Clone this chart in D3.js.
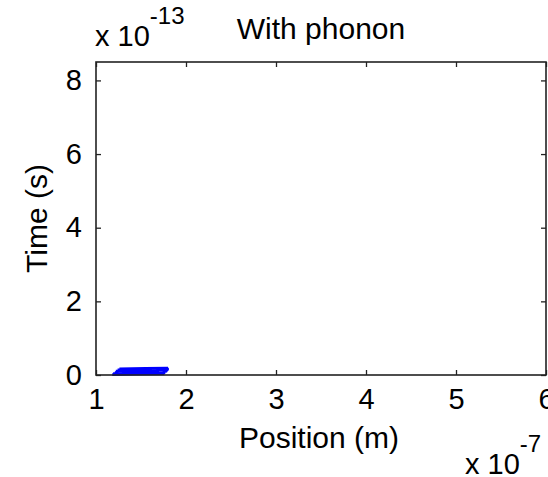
<!DOCTYPE html>
<html>
<head>
<meta charset="utf-8">
<script src="https://cdn.jsdelivr.net/npm/d3@7"></script>
<style>
  body { margin: 0; background: #fff; }
  text { font-family: "Liberation Sans", Arial, sans-serif; fill: #000; }
  .axis path { display: none; }
  .axis line { stroke: #222; stroke-width: 1.3; }
</style>
</head>
<body>
<div id="chart"></div>
<script>
// values in units of 1e-7 m (position) and 1e-13 s (time)
const xTicks = [1, 2, 3, 4, 5, 6];
const yTicks = [0, 2, 4, 6, 8];
const xDomain = [1, 6];
const yDomain = [0, 8.5];

// electron trajectories [position, time]
const paths = [
  [[1.18, 0.01], [1.48, 0.02], [1.76, 0.03]],
  [[1.19, 0.04], [1.50, 0.05], [1.77, 0.06]],
  [[1.21, 0.07], [1.25, 0.08]],
  [[1.29, 0.08], [1.55, 0.09], [1.70, 0.10]],
  [[1.74, 0.09], [1.79, 0.10]],
  [[1.22, 0.11], [1.52, 0.12], [1.80, 0.13]],
  [[1.24, 0.14], [1.50, 0.15], [1.62, 0.16]],
  [[1.67, 0.15], [1.81, 0.16]],
  [[1.26, 0.17], [1.55, 0.18], [1.80, 0.19]]
];

const totalW = 548, totalH = 477;
let margin = {top: 62, right: 2, bottom: 102, left: 96};
let W = totalW - margin.left - margin.right;
let H = totalH - margin.top - margin.bottom;

let svg = d3.select('#chart').append('svg')
  .attr('width', totalW)
  .attr('height', totalH);
let g = svg.append('g')
  .attr('transform', 'translate(' + margin.left + ' ' + margin.top + ')');

let x = d3.scaleLinear().domain(xDomain).range([0, W]);
let y = d3.scaleLinear().domain(yDomain).range([H, 0]);

// trajectories
let line = d3.line().x(d => x(d[0])).y(d => y(d[1]));
g.append('g').selectAll('path')
  .data(paths)
  .join('path')
    .attr('d', line)
    .attr('fill', 'none')
    .attr('stroke', '#0000ff')
    .attr('stroke-width', 2.6);

// inward ticks on all four sides
let tk = 5;
let fmt = d3.format('d');
g.append('g').classed('axis', true)
  .attr('transform', 'translate(0 ' + H + ')')
  .call(d3.axisBottom(x).tickValues(xTicks).tickFormat(fmt).tickSizeInner(-tk).tickSizeOuter(0).tickPadding(13))
  .selectAll('text').attr('font-size', 29);
g.append('g').classed('axis', true)
  .call(d3.axisTop(x).tickValues(xTicks).tickSizeInner(-tk).tickSizeOuter(0).tickFormat(''));
g.append('g').classed('axis', true)
  .call(d3.axisLeft(y).tickValues(yTicks).tickFormat(fmt).tickSizeInner(-tk).tickSizeOuter(0).tickPadding(14))
  .selectAll('text').attr('font-size', 29);
g.append('g').classed('axis', true)
  .attr('transform', 'translate(' + W + ' 0)')
  .call(d3.axisRight(y).tickValues(yTicks).tickSizeInner(-tk).tickSizeOuter(0).tickFormat(''));

// box
g.append('rect')
  .attr('width', W).attr('height', H)
  .attr('fill', 'none')
  .attr('stroke', '#222')
  .attr('stroke-width', 1.6);

// labels
g.append('text')
  .text('With phonon')
  .attr('font-size', 30)
  .attr('text-anchor', 'middle')
  .attr('x', W / 2)
  .attr('y', -23);
g.append('text')
  .text('Position (m)')
  .attr('font-size', 30)
  .attr('text-anchor', 'middle')
  .attr('x', W / 2 - 2)
  .attr('y', H + 73);
svg.append('text')
  .text('Time (s)')
  .attr('font-size', 30)
  .attr('text-anchor', 'middle')
  .attr('transform', 'translate(47 ' + (margin.top + H / 2) + ') rotate(-90)');

// exponent multipliers
function multiplier(xp, yp, exp) {
  let t = svg.append('text').attr('x', xp).attr('y', yp).attr('font-size', 29);
  t.append('tspan').text('x 10');
  t.append('tspan').text(exp).attr('font-size', 24).attr('dy', -22);
}
multiplier(95, 46, '-13');
multiplier(465, 474, '-7');
</script>
</body>
</html>
